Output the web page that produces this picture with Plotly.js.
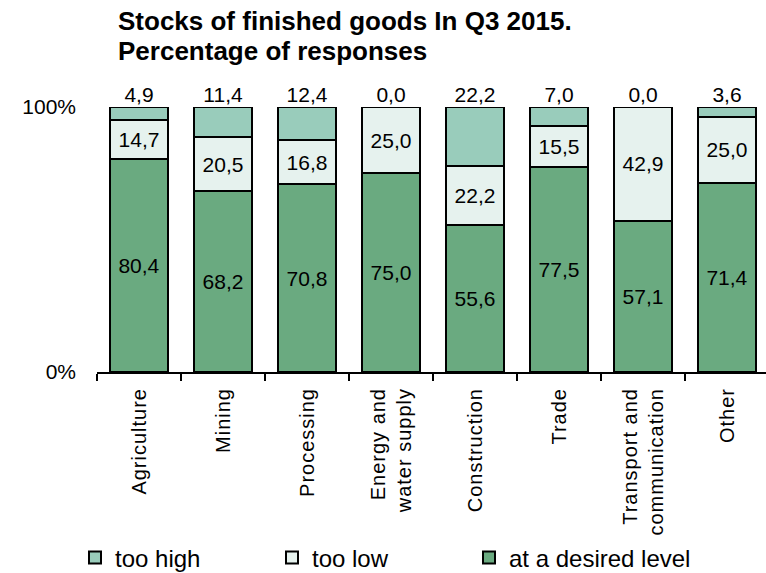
<!DOCTYPE html>
<html>
<head>
<meta charset="utf-8">
<script src="https://cdn.plot.ly/plotly-3.0.1.min.js"></script>
<style>
html,body{margin:0;padding:0;background:#fff;}
#chart{width:766px;height:573px;}
#chart .xtick text{letter-spacing:1px;}
</style>
</head>
<body>
<div id="chart"></div>
<script>
var categories = ["Agriculture", "Mining", "Processing", "Energy and<br>water supply", "Construction", "Trade", "Transport and<br>communication", "Other"];
var desiredLevel = [80.4, 68.2, 70.8, 75.0, 55.6, 77.5, 57.1, 71.4];
var tooLow = [14.7, 20.5, 16.8, 25.0, 22.2, 15.5, 42.9, 25.0];
var tooHigh = [4.9, 11.4, 12.4, 0.0, 22.2, 7.0, 0.0, 3.6];
var yTickVals = [0, 100];
var yTickText = ["0%", "100%"];

function fmt(v) { return v.toFixed(1).replace(".", ","); }
// top of each stack (shares are of 100%; rounding can give 100.1)
var stackTotals = desiredLevel.map(function (v, i) {
  return Math.min(100, Math.round((v + tooLow[i] + tooHigh[i]) * 10) / 10);
});

var FONT = "Liberation Sans, Arial, sans-serif";
var lineStyle = {color: "#000", width: 2};
var labelFont = {family: FONT, size: 21, color: "#000"};

var traces = [
  {type: "bar", name: "at a desired level", x: categories, y: desiredLevel,
   text: desiredLevel.map(fmt), textposition: "inside", insidetextanchor: "middle",
   textangle: 0, textfont: labelFont, constraintext: "none",
   marker: {color: "#6aaa80", line: lineStyle}},
  {type: "bar", name: "too low", x: categories, y: tooLow,
   text: tooLow.map(fmt), textposition: "inside", insidetextanchor: "middle",
   textangle: 0, textfont: labelFont, constraintext: "none",
   marker: {color: "#e6f2ee", line: lineStyle}},
  {type: "bar", name: "too high", x: categories, y: tooHigh,
   textposition: "none",
   marker: {color: "#99ccbb", line: lineStyle}},
  {type: "scatter", mode: "text", x: categories, y: stackTotals,
   text: tooHigh.map(fmt), textposition: "top center", cliponaxis: false,
   textfont: labelFont, showlegend: false, hoverinfo: "skip"}
];

var layout = {
  width: 766, height: 573,
  margin: {l: 97, r: 0, t: 107, b: 201},
  paper_bgcolor: "#fff", plot_bgcolor: "#fff",
  barmode: "stack", bargap: 0.32,
  title: {text: "<b>Stocks of finished goods In Q3 2015.<br>Percentage of responses</b>",
          xref: "container", x: 118/766, xanchor: "left",
          yref: "container", y: 1 - 30/573, yanchor: "top",
          font: {family: FONT, size: 26, color: "#000"}},
  xaxis: {type: "category", range: [-0.5, 7.464], showgrid: false,
          showline: true, linecolor: "#000", linewidth: 2,
          ticks: "outside", tickson: "boundaries", ticklen: 7, tickwidth: 2, tickcolor: "#000",
          tickangle: -90, ticklabelstandoff: 6,
          tickfont: {family: FONT, size: 20, color: "#000"}},
  yaxis: {range: [0, 100], tickvals: yTickVals, ticktext: yTickText,
          showgrid: false, zeroline: false, showline: false, ticks: "",
          ticklabelstandoff: 20,
          tickfont: {family: FONT, size: 21, color: "#000"}},
  legend: {orientation: "h", xref: "container", x: 75/766, xanchor: "left",
           yref: "container", y: 1 - 558/573, yanchor: "middle",
           traceorder: "reversed", entrywidth: 152, entrywidthmode: "pixels",
           font: {family: FONT, size: 24, color: "#000"}, itemwidth: 30}
};

Plotly.newPlot("chart", traces, layout, {displayModeBar: false, staticPlot: true}).then(function (gd) {
  // let the last legend label run past the fixed entry width
  gd.querySelectorAll(".legend [clip-path]").forEach(function (el) {
    el.removeAttribute("clip-path");
  });
  // tighter line spacing for the two-line title, as in the original
  gd.querySelectorAll(".gtitle tspan.line").forEach(function (t, i) {
    if (i > 0) t.setAttribute("dy", (1.15 * i) + "em");
  });
});
</script>
</body>
</html>
